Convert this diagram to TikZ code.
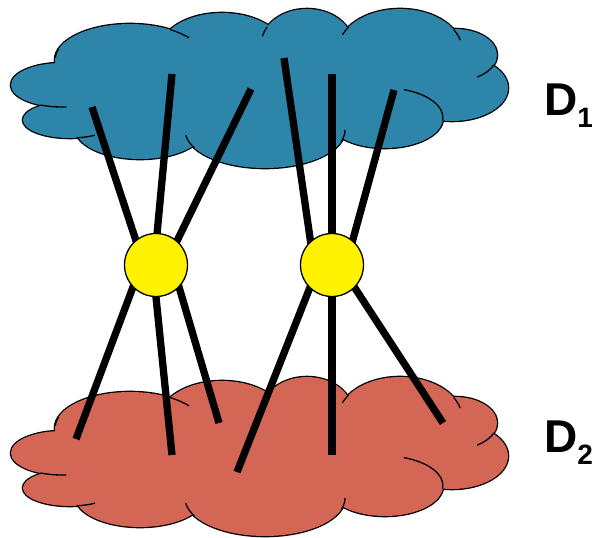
\documentclass[tikz,border=0pt]{standalone}
\usepackage{fontspec}
\setmainfont{Liberation Sans}
\definecolor{skyblue}{RGB}{46,133,170}
\definecolor{clay}{RGB}{212,102,86}
\pgfdeclarelayer{back}
\pgfsetlayers{back,main}
% lobes of one cloud: centre x/centre y/x radius/y radius (1 unit = 1pt, y runs down)
\def\lobes{130/60/75/36, 222/50/62/37, 307/45/46/36, 400/50/62/41, 455/55/42/26,
  452/88/56/33, 385/118/58/30, 265/130/80/38, 140/128/65/31, 70/120/47/18, 62/85/51/22}
\def\fillers{280/92/138/52, 110/105/40/20}
% inner arcs: lobe, then start and end angle
\def\stubs{130/60/75/36/184/198, 130/60/75/36/-58/-38, 307/45/46/36/-150/-166,
  400/50/62/41/-146/-158, 400/50/62/41/-30/-14, 455/55/42/26/22/58,
  385/118/58/30/-71/5, 265/130/80/38/152/172, 265/130/80/38/17/0,
  70/120/47/18/82/58, 62/85/51/22/115/85}
\tikzset{
  edge line/.style={draw=black, line width=2.6pt},
  stub line/.style={draw=black, line width=1.3pt},
  hub/.style={circle, draw=black, line width=1.3pt, fill=yellow, minimum size=63pt, inner sep=0pt},
  wire/.style={line width=7.3pt, shorten >=-5pt},
  lbl/.style={font=\fontsize{46}{50}\selectfont\bfseries, inner sep=0pt, anchor=base west},
  pics/puff/.style={code={
    % outline of every lobe, the fill then hides the inner halves
    \foreach \cx/\cy/\rx/\ry in \lobes
      \draw[edge line] (\cx,\cy) ellipse [x radius=\rx, y radius=\ry];
    \foreach \cx/\cy/\rx/\ry in \lobes
      \fill[#1] (\cx,\cy) ellipse [x radius=\rx, y radius=\ry];
    \foreach \cx/\cy/\rx/\ry in \fillers
      \fill[#1] (\cx,\cy) ellipse [x radius=\rx, y radius=\ry];
    % short arcs left inside the cloud
    \foreach \cx/\cy/\rx/\ry/\ta/\tb in \stubs
      \draw[stub line] ({\cx+\rx*cos(\ta)},{\cy+\ry*sin(\ta)})
        arc [start angle=\ta, end angle=\tb, x radius=\rx, y radius=\ry];
  }}
}
\begin{document}
\begin{tikzpicture}[x=1pt, y=-1pt]
\useasboundingbox (0,0) rectangle (592,538);
% Draw the two clouds
\begin{pgfonlayer}{back}
\pic at (0,0) {puff=skyblue};
\pic at (0,368) {puff=clay};
\end{pgfonlayer}
% Wire ends inside the clouds
\coordinate (t1) at (92,107);
\coordinate (t2) at (172,74);
\coordinate (t3) at (251,89);
\coordinate (t4) at (284,58);
\coordinate (t5) at (332,74);
\coordinate (t6) at (394,90);
\coordinate (b1) at (76,439);
\coordinate (b2) at (172,455);
\coordinate (b3) at (219,423);
\coordinate (b4) at (237,472);
\coordinate (b5) at (332,455);
\coordinate (b6) at (443,423);
% Draw the two hubs
\node[hub] (u) at (156,265) {};
\node[hub] (v) at (332,265) {};
% Draw wires from the clouds into the hubs
\begin{pgfonlayer}{back}
\foreach \e/\a in {t1/129, t2/88, t3/49, b1/224, b2/270, b3/316}
  \draw[wire] (\e) -- (u.\a);
\foreach \e/\a in {t4/132, t5/90, t6/50, b4/226, b5/270, b6/315}
  \draw[wire] (\e) -- (v.\a);
\end{pgfonlayer}
% Labels
\node[lbl] (d1) at (544,115) {D\raisebox{-12pt}{\fontsize{28}{30}\selectfont 1}};
\node[lbl] (d2) at (544,452) {D\raisebox{-12pt}{\fontsize{28}{30}\selectfont 2}};
\end{tikzpicture}
\end{document}
